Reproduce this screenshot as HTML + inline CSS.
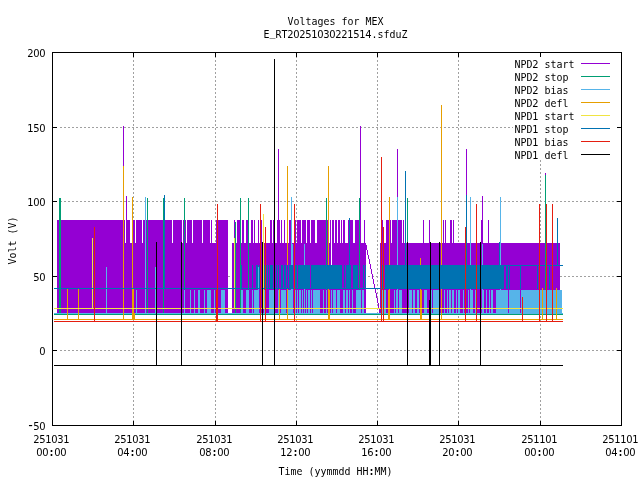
<!DOCTYPE html>
<html><head><meta charset="utf-8"><title>Voltages for MEX</title>
<style>
html,body{margin:0;padding:0;background:#fff;}
svg{display:block}
text{font-family:"DejaVu Sans Mono","Liberation Mono",monospace;font-size:11px;fill:#000;}
.d{font-family:"DejaVu Sans","Liberation Sans",sans-serif;}
</style></head><body>
<svg width="640" height="480" viewBox="0 0 640 480">
<rect width="640" height="480" fill="#fff"/>
<g shape-rendering="crispEdges">
<path d="M60 127.5H621" stroke="#a0a0a0" stroke-dasharray="2 2" stroke-dashoffset="0" fill="none"/>
<path d="M60 201.5H621" stroke="#a0a0a0" stroke-dasharray="2 2" stroke-dashoffset="0" fill="none"/>
<path d="M60 276.5H621" stroke="#a0a0a0" stroke-dasharray="2 2" stroke-dashoffset="0" fill="none"/>
<path d="M60 350.5H621" stroke="#a0a0a0" stroke-dasharray="2 2" stroke-dashoffset="0" fill="none"/>
<path d="M133.5 52V425" stroke="#a0a0a0" stroke-dasharray="2 2" stroke-dashoffset="0" fill="none"/>
<path d="M215.5 52V425" stroke="#a0a0a0" stroke-dasharray="2 2" stroke-dashoffset="0" fill="none"/>
<path d="M296.5 52V425" stroke="#a0a0a0" stroke-dasharray="2 2" stroke-dashoffset="0" fill="none"/>
<path d="M377.5 52V425" stroke="#a0a0a0" stroke-dasharray="2 2" stroke-dashoffset="0" fill="none"/>
<path d="M458.5 52V425" stroke="#a0a0a0" stroke-dasharray="2 2" stroke-dashoffset="0" fill="none"/>
<path d="M540.5 52V425" stroke="#a0a0a0" stroke-dasharray="2 2" stroke-dashoffset="0" fill="none"/>
<rect x="513" y="56" width="104" height="104" fill="#fff"/>
</g>
<g shape-rendering="crispEdges">
<rect x="57" y="220" width="68" height="23" fill="#9400d3"/>
<rect x="126" y="220" width="4" height="23" fill="#9400d3"/>
<rect x="132" y="220" width="3" height="23" fill="#9400d3"/>
<rect x="136" y="220" width="6" height="23" fill="#9400d3"/>
<rect x="143" y="220" width="29" height="23" fill="#9400d3"/>
<rect x="173" y="220" width="9" height="23" fill="#9400d3"/>
<rect x="183" y="220" width="3" height="23" fill="#9400d3"/>
<rect x="187" y="220" width="5" height="23" fill="#9400d3"/>
<rect x="193" y="220" width="9" height="23" fill="#9400d3"/>
<rect x="203" y="220" width="7" height="23" fill="#9400d3"/>
<rect x="211" y="220" width="1" height="23" fill="#9400d3"/>
<rect x="216" y="220" width="12" height="23" fill="#9400d3"/>
<rect x="57" y="243" width="171" height="70" fill="#9400d3"/>
<rect x="234" y="220" width="1" height="23" fill="#9400d3"/>
<rect x="237" y="220" width="3" height="23" fill="#9400d3"/>
<rect x="242" y="220" width="2" height="23" fill="#9400d3"/>
<rect x="246" y="220" width="2" height="23" fill="#9400d3"/>
<rect x="251" y="220" width="2" height="23" fill="#9400d3"/>
<rect x="254" y="220" width="1" height="23" fill="#9400d3"/>
<rect x="258" y="220" width="1" height="23" fill="#9400d3"/>
<rect x="261" y="220" width="1" height="23" fill="#9400d3"/>
<rect x="270" y="220" width="2" height="23" fill="#9400d3"/>
<rect x="273" y="220" width="1" height="23" fill="#9400d3"/>
<rect x="277" y="220" width="3" height="23" fill="#9400d3"/>
<rect x="281" y="220" width="1" height="23" fill="#9400d3"/>
<rect x="284" y="220" width="1" height="23" fill="#9400d3"/>
<rect x="289" y="220" width="2" height="23" fill="#9400d3"/>
<rect x="295" y="220" width="1" height="23" fill="#9400d3"/>
<rect x="297" y="220" width="4" height="23" fill="#9400d3"/>
<rect x="302" y="220" width="4" height="23" fill="#9400d3"/>
<rect x="307" y="220" width="3" height="23" fill="#9400d3"/>
<rect x="311" y="220" width="4" height="23" fill="#9400d3"/>
<rect x="317" y="220" width="12" height="23" fill="#9400d3"/>
<rect x="330" y="220" width="1" height="23" fill="#9400d3"/>
<rect x="332" y="220" width="2" height="23" fill="#9400d3"/>
<rect x="335" y="220" width="2" height="23" fill="#9400d3"/>
<rect x="338" y="220" width="2" height="23" fill="#9400d3"/>
<rect x="341" y="220" width="1" height="23" fill="#9400d3"/>
<rect x="343" y="220" width="2" height="23" fill="#9400d3"/>
<rect x="348" y="220" width="5" height="23" fill="#9400d3"/>
<rect x="355" y="220" width="6" height="23" fill="#9400d3"/>
<rect x="364" y="220" width="1" height="23" fill="#9400d3"/>
<rect x="232" y="243" width="134" height="70" fill="#9400d3"/>
<rect x="331" y="243" width="1" height="22" fill="#fff"/>
<rect x="382" y="220" width="1" height="23" fill="#9400d3"/>
<rect x="386" y="220" width="5" height="23" fill="#9400d3"/>
<rect x="392" y="220" width="10" height="23" fill="#9400d3"/>
<rect x="403" y="220" width="1" height="23" fill="#9400d3"/>
<rect x="423" y="220" width="1" height="23" fill="#9400d3"/>
<rect x="429" y="220" width="1" height="23" fill="#9400d3"/>
<rect x="443" y="220" width="1" height="23" fill="#9400d3"/>
<rect x="445" y="220" width="1" height="23" fill="#9400d3"/>
<rect x="450" y="220" width="2" height="23" fill="#9400d3"/>
<rect x="453" y="220" width="1" height="23" fill="#9400d3"/>
<rect x="481" y="220" width="1" height="23" fill="#9400d3"/>
<rect x="488" y="220" width="1" height="23" fill="#9400d3"/>
<rect x="380" y="243" width="180" height="70" fill="#9400d3"/>
<rect x="365" y="243" width="1" height="2" fill="#9400d3"/>
<rect x="366" y="245" width="1" height="5" fill="#9400d3"/>
<rect x="367" y="250" width="1" height="5" fill="#9400d3"/>
<rect x="368" y="255" width="1" height="4" fill="#9400d3"/>
<rect x="369" y="259" width="1" height="5" fill="#9400d3"/>
<rect x="370" y="264" width="1" height="5" fill="#9400d3"/>
<rect x="371" y="269" width="1" height="5" fill="#9400d3"/>
<rect x="372" y="274" width="1" height="5" fill="#9400d3"/>
<rect x="373" y="279" width="1" height="5" fill="#9400d3"/>
<rect x="374" y="284" width="1" height="4" fill="#9400d3"/>
<rect x="375" y="288" width="1" height="5" fill="#9400d3"/>
<rect x="376" y="293" width="1" height="5" fill="#9400d3"/>
<rect x="377" y="298" width="1" height="5" fill="#9400d3"/>
<rect x="378" y="303" width="1" height="5" fill="#9400d3"/>
<rect x="379" y="308" width="1" height="5" fill="#9400d3"/>
<rect x="123" y="126" width="1" height="118" fill="#9400d3"/>
<rect x="126" y="196" width="1" height="48" fill="#9400d3"/>
<rect x="278" y="149" width="1" height="95" fill="#9400d3"/>
<rect x="360" y="126" width="1" height="118" fill="#9400d3"/>
<rect x="397" y="149" width="1" height="95" fill="#9400d3"/>
<rect x="466" y="149" width="1" height="95" fill="#9400d3"/>
<rect x="482" y="196" width="1" height="48" fill="#9400d3"/>
<rect x="545" y="173" width="1" height="71" fill="#9400d3"/>
<rect x="54" y="314" width="509" height="1" fill="#009e73"/>
<rect x="59" y="198" width="1" height="117" fill="#009e73"/>
<rect x="60" y="198" width="1" height="117" fill="#009e73"/>
<rect x="147" y="198" width="1" height="117" fill="#009e73"/>
<rect x="163" y="198" width="1" height="117" fill="#009e73"/>
<rect x="184" y="198" width="1" height="117" fill="#009e73"/>
<rect x="235" y="222" width="1" height="93" fill="#009e73"/>
<rect x="240" y="198" width="1" height="117" fill="#009e73"/>
<rect x="248" y="198" width="1" height="117" fill="#009e73"/>
<rect x="326" y="198" width="1" height="117" fill="#009e73"/>
<rect x="359" y="198" width="1" height="117" fill="#009e73"/>
<rect x="407" y="198" width="1" height="117" fill="#009e73"/>
<rect x="545" y="175" width="1" height="140" fill="#009e73"/>
<rect x="54" y="313" width="509" height="1" fill="#56b4e9"/>
<rect x="136" y="290" width="1" height="24" fill="#56b4e9"/>
<rect x="184" y="290" width="1" height="24" fill="#56b4e9"/>
<rect x="190" y="290" width="1" height="24" fill="#56b4e9"/>
<rect x="194" y="290" width="1" height="24" fill="#56b4e9"/>
<rect x="198" y="290" width="2" height="24" fill="#56b4e9"/>
<rect x="204" y="290" width="1" height="24" fill="#56b4e9"/>
<rect x="207" y="290" width="4" height="24" fill="#56b4e9"/>
<rect x="214" y="290" width="1" height="24" fill="#56b4e9"/>
<rect x="221" y="290" width="4" height="24" fill="#56b4e9"/>
<rect x="241" y="290" width="2" height="24" fill="#56b4e9"/>
<rect x="246" y="290" width="3" height="24" fill="#56b4e9"/>
<rect x="252" y="290" width="1" height="24" fill="#56b4e9"/>
<rect x="254" y="290" width="5" height="24" fill="#56b4e9"/>
<rect x="264" y="290" width="1" height="24" fill="#56b4e9"/>
<rect x="269" y="290" width="5" height="24" fill="#56b4e9"/>
<rect x="278" y="290" width="1" height="24" fill="#56b4e9"/>
<rect x="281" y="290" width="5" height="24" fill="#56b4e9"/>
<rect x="288" y="290" width="5" height="24" fill="#56b4e9"/>
<rect x="295" y="290" width="1" height="24" fill="#56b4e9"/>
<rect x="297" y="290" width="1" height="24" fill="#56b4e9"/>
<rect x="299" y="290" width="2" height="24" fill="#56b4e9"/>
<rect x="302" y="290" width="1" height="24" fill="#56b4e9"/>
<rect x="304" y="290" width="1" height="24" fill="#56b4e9"/>
<rect x="306" y="290" width="1" height="24" fill="#56b4e9"/>
<rect x="308" y="290" width="2" height="24" fill="#56b4e9"/>
<rect x="311" y="290" width="1" height="24" fill="#56b4e9"/>
<rect x="313" y="290" width="7" height="24" fill="#56b4e9"/>
<rect x="323" y="290" width="1" height="24" fill="#56b4e9"/>
<rect x="326" y="290" width="1" height="24" fill="#56b4e9"/>
<rect x="331" y="290" width="1" height="24" fill="#56b4e9"/>
<rect x="333" y="290" width="3" height="24" fill="#56b4e9"/>
<rect x="337" y="290" width="3" height="24" fill="#56b4e9"/>
<rect x="343" y="290" width="2" height="24" fill="#56b4e9"/>
<rect x="346" y="290" width="2" height="24" fill="#56b4e9"/>
<rect x="349" y="290" width="1" height="24" fill="#56b4e9"/>
<rect x="352" y="290" width="1" height="24" fill="#56b4e9"/>
<rect x="356" y="290" width="5" height="24" fill="#56b4e9"/>
<rect x="362" y="290" width="2" height="24" fill="#56b4e9"/>
<rect x="382" y="290" width="1" height="24" fill="#56b4e9"/>
<rect x="384" y="290" width="2" height="24" fill="#56b4e9"/>
<rect x="394" y="290" width="1" height="24" fill="#56b4e9"/>
<rect x="396" y="290" width="2" height="24" fill="#56b4e9"/>
<rect x="399" y="290" width="3" height="24" fill="#56b4e9"/>
<rect x="409" y="290" width="3" height="24" fill="#56b4e9"/>
<rect x="413" y="290" width="2" height="24" fill="#56b4e9"/>
<rect x="417" y="290" width="2" height="24" fill="#56b4e9"/>
<rect x="424" y="290" width="3" height="24" fill="#56b4e9"/>
<rect x="431" y="290" width="1" height="24" fill="#56b4e9"/>
<rect x="433" y="290" width="6" height="24" fill="#56b4e9"/>
<rect x="444" y="290" width="1" height="24" fill="#56b4e9"/>
<rect x="447" y="290" width="1" height="24" fill="#56b4e9"/>
<rect x="449" y="290" width="2" height="24" fill="#56b4e9"/>
<rect x="452" y="290" width="2" height="24" fill="#56b4e9"/>
<rect x="456" y="290" width="1" height="24" fill="#56b4e9"/>
<rect x="458" y="290" width="2" height="24" fill="#56b4e9"/>
<rect x="463" y="290" width="1" height="24" fill="#56b4e9"/>
<rect x="468" y="290" width="1" height="24" fill="#56b4e9"/>
<rect x="470" y="290" width="3" height="24" fill="#56b4e9"/>
<rect x="475" y="290" width="1" height="24" fill="#56b4e9"/>
<rect x="482" y="290" width="2" height="24" fill="#56b4e9"/>
<rect x="486" y="290" width="1" height="24" fill="#56b4e9"/>
<rect x="489" y="290" width="1" height="24" fill="#56b4e9"/>
<rect x="491" y="290" width="2" height="24" fill="#56b4e9"/>
<rect x="496" y="290" width="12" height="24" fill="#56b4e9"/>
<rect x="509" y="290" width="11" height="24" fill="#56b4e9"/>
<rect x="521" y="290" width="41" height="24" fill="#56b4e9"/>
<rect x="106" y="267" width="1" height="47" fill="#56b4e9"/>
<rect x="145" y="197" width="1" height="117" fill="#56b4e9"/>
<rect x="155" y="267" width="1" height="47" fill="#56b4e9"/>
<rect x="258" y="267" width="1" height="47" fill="#56b4e9"/>
<rect x="291" y="197" width="1" height="117" fill="#56b4e9"/>
<rect x="292" y="244" width="1" height="70" fill="#56b4e9"/>
<rect x="304" y="244" width="1" height="70" fill="#56b4e9"/>
<rect x="397" y="197" width="1" height="117" fill="#56b4e9"/>
<rect x="470" y="197" width="1" height="117" fill="#56b4e9"/>
<rect x="482" y="244" width="1" height="70" fill="#56b4e9"/>
<rect x="500" y="197" width="1" height="117" fill="#56b4e9"/>
<rect x="54" y="319" width="509" height="1" fill="#e69f00"/>
<rect x="67" y="289" width="1" height="31" fill="#e69f00"/>
<rect x="78" y="289" width="1" height="31" fill="#e69f00"/>
<rect x="123" y="166" width="1" height="154" fill="#e69f00"/>
<rect x="132" y="197" width="1" height="123" fill="#e69f00"/>
<rect x="133" y="289" width="1" height="31" fill="#e69f00"/>
<rect x="279" y="289" width="1" height="31" fill="#e69f00"/>
<rect x="287" y="166" width="1" height="154" fill="#e69f00"/>
<rect x="328" y="166" width="1" height="154" fill="#e69f00"/>
<rect x="329" y="290" width="1" height="30" fill="#e69f00"/>
<rect x="388" y="290" width="1" height="30" fill="#e69f00"/>
<rect x="389" y="197" width="1" height="123" fill="#e69f00"/>
<rect x="420" y="258" width="1" height="62" fill="#e69f00"/>
<rect x="421" y="290" width="1" height="30" fill="#e69f00"/>
<rect x="441" y="105" width="1" height="215" fill="#e69f00"/>
<rect x="542" y="288" width="1" height="32" fill="#e69f00"/>
<rect x="556" y="288" width="1" height="32" fill="#e69f00"/>
<rect x="132" y="313" width="3" height="7" fill="#e69f00"/>
<rect x="54" y="308" width="509" height="1" fill="#f0e442"/>
<rect x="92" y="238" width="1" height="71" fill="#f0e442"/>
<rect x="234" y="238" width="1" height="71" fill="#f0e442"/>
<rect x="263" y="214" width="1" height="95" fill="#f0e442"/>
<rect x="54" y="288" width="450" height="1" fill="#0072b2"/>
<rect x="504" y="265" width="59" height="1" fill="#0072b2"/>
<rect x="241" y="265" width="1" height="24" fill="#0072b2"/>
<rect x="252" y="265" width="1" height="24" fill="#0072b2"/>
<rect x="256" y="265" width="2" height="24" fill="#0072b2"/>
<rect x="259" y="265" width="1" height="24" fill="#0072b2"/>
<rect x="264" y="265" width="1" height="24" fill="#0072b2"/>
<rect x="266" y="265" width="1" height="24" fill="#0072b2"/>
<rect x="268" y="265" width="1" height="24" fill="#0072b2"/>
<rect x="270" y="265" width="3" height="24" fill="#0072b2"/>
<rect x="276" y="265" width="1" height="24" fill="#0072b2"/>
<rect x="278" y="265" width="1" height="24" fill="#0072b2"/>
<rect x="281" y="265" width="2" height="24" fill="#0072b2"/>
<rect x="284" y="265" width="2" height="24" fill="#0072b2"/>
<rect x="287" y="265" width="1" height="24" fill="#0072b2"/>
<rect x="289" y="265" width="4" height="24" fill="#0072b2"/>
<rect x="294" y="265" width="3" height="24" fill="#0072b2"/>
<rect x="298" y="265" width="12" height="24" fill="#0072b2"/>
<rect x="311" y="265" width="31" height="24" fill="#0072b2"/>
<rect x="344" y="265" width="1" height="24" fill="#0072b2"/>
<rect x="346" y="265" width="5" height="24" fill="#0072b2"/>
<rect x="353" y="265" width="5" height="24" fill="#0072b2"/>
<rect x="363" y="265" width="1" height="24" fill="#0072b2"/>
<rect x="365" y="265" width="1" height="24" fill="#0072b2"/>
<rect x="382" y="265" width="1" height="24" fill="#0072b2"/>
<rect x="385" y="265" width="119" height="24" fill="#0072b2"/>
<rect x="506" y="265" width="2" height="24" fill="#0072b2"/>
<rect x="509" y="265" width="1" height="24" fill="#0072b2"/>
<rect x="520" y="265" width="1" height="24" fill="#0072b2"/>
<rect x="537" y="265" width="1" height="24" fill="#0072b2"/>
<rect x="549" y="265" width="1" height="24" fill="#0072b2"/>
<rect x="164" y="195" width="1" height="94" fill="#0072b2"/>
<rect x="349" y="218" width="1" height="71" fill="#0072b2"/>
<rect x="405" y="171" width="1" height="118" fill="#0072b2"/>
<rect x="466" y="195" width="1" height="94" fill="#0072b2"/>
<rect x="499" y="242" width="1" height="47" fill="#0072b2"/>
<rect x="557" y="218" width="1" height="48" fill="#0072b2"/>
<rect x="54" y="321" width="509" height="1" fill="#e51e10"/>
<rect x="94" y="227" width="1" height="95" fill="#e51e10"/>
<rect x="216" y="290" width="1" height="32" fill="#e51e10"/>
<rect x="217" y="204" width="1" height="118" fill="#e51e10"/>
<rect x="260" y="204" width="1" height="118" fill="#e51e10"/>
<rect x="265" y="227" width="1" height="95" fill="#e51e10"/>
<rect x="294" y="204" width="1" height="118" fill="#e51e10"/>
<rect x="381" y="157" width="1" height="165" fill="#e51e10"/>
<rect x="383" y="227" width="1" height="95" fill="#e51e10"/>
<rect x="465" y="227" width="1" height="95" fill="#e51e10"/>
<rect x="476" y="204" width="1" height="118" fill="#e51e10"/>
<rect x="522" y="297" width="1" height="25" fill="#e51e10"/>
<rect x="539" y="204" width="1" height="118" fill="#e51e10"/>
<rect x="546" y="204" width="1" height="118" fill="#e51e10"/>
<rect x="552" y="204" width="1" height="118" fill="#e51e10"/>
<rect x="54" y="365" width="509" height="1" fill="#000"/>
<rect x="156" y="242" width="1" height="124" fill="#000"/>
<rect x="181" y="242" width="1" height="124" fill="#000"/>
<rect x="262" y="242" width="1" height="124" fill="#000"/>
<rect x="274" y="59" width="1" height="307" fill="#000"/>
<rect x="407" y="242" width="1" height="124" fill="#000"/>
<rect x="429" y="300" width="1" height="66" fill="#000"/>
<rect x="430" y="242" width="1" height="124" fill="#000"/>
<rect x="439" y="242" width="1" height="124" fill="#000"/>
<rect x="480" y="242" width="1" height="124" fill="#000"/>
</g>
<g shape-rendering="crispEdges">
<rect x="581" y="63" width="29" height="1" fill="#9400d3"/>
<rect x="581" y="76" width="29" height="1" fill="#009e73"/>
<rect x="581" y="89" width="29" height="1" fill="#56b4e9"/>
<rect x="581" y="102" width="29" height="1" fill="#e69f00"/>
<rect x="581" y="115" width="29" height="1" fill="#f0e442"/>
<rect x="581" y="128" width="29" height="1" fill="#0072b2"/>
<rect x="581" y="141" width="29" height="1" fill="#e51e10"/>
<rect x="581" y="154" width="29" height="1" fill="#000"/>
<path d="M52.5 52.5H621.5V425.5H52.5z" stroke="#000" fill="none"/>
<rect x="133" y="421" width="1" height="4" fill="#000"/><rect x="133" y="53" width="1" height="4" fill="#000"/>
<rect x="215" y="421" width="1" height="4" fill="#000"/><rect x="215" y="53" width="1" height="4" fill="#000"/>
<rect x="296" y="421" width="1" height="4" fill="#000"/><rect x="296" y="53" width="1" height="4" fill="#000"/>
<rect x="377" y="421" width="1" height="4" fill="#000"/><rect x="377" y="53" width="1" height="4" fill="#000"/>
<rect x="458" y="421" width="1" height="4" fill="#000"/><rect x="458" y="53" width="1" height="4" fill="#000"/>
<rect x="540" y="421" width="1" height="4" fill="#000"/><rect x="540" y="53" width="1" height="4" fill="#000"/>
<rect x="53" y="127" width="4" height="1" fill="#000"/><rect x="617" y="127" width="4" height="1" fill="#000"/>
<rect x="53" y="201" width="4" height="1" fill="#000"/><rect x="617" y="201" width="4" height="1" fill="#000"/>
<rect x="53" y="276" width="4" height="1" fill="#000"/><rect x="617" y="276" width="4" height="1" fill="#000"/>
<rect x="53" y="350" width="4" height="1" fill="#000"/><rect x="617" y="350" width="4" height="1" fill="#000"/>
</g>
<g>
<text transform="translate(287,25) scale(0.906,1)" x="3.86 10.49 17.11 23.73 30.35 36.98 43.60 50.22 56.84 63.47 70.09 76.71 83.33 89.96 96.58 103.20" y="0" text-anchor="middle">Voltages for MEX</text>
<text transform="translate(263,38) scale(0.906,1)" x="3.86 10.49 17.11 23.73 30.35 36.98 43.60 50.22 56.84 63.47 70.09 76.71 83.33 89.96 96.58 103.20 109.82 116.45 123.07 129.69 136.31 142.94 149.56 156.18" y="0" text-anchor="middle">E<tspan dy="-2">_</tspan><tspan dy="2">RT</tspan><tspan class="d">20251030221514</tspan>.sfduZ</text>
<text transform="translate(27,57) scale(0.906,1)" x="3.86 10.49 17.11" y="0" text-anchor="middle"><tspan class="d">200</tspan></text>
<text transform="translate(27,132) scale(0.906,1)" x="3.86 10.49 17.11" y="0" text-anchor="middle"><tspan class="d">150</tspan></text>
<text transform="translate(27,206) scale(0.906,1)" x="3.86 10.49 17.11" y="0" text-anchor="middle"><tspan class="d">100</tspan></text>
<text transform="translate(33,281) scale(0.906,1)" x="3.86 10.49" y="0" text-anchor="middle"><tspan class="d">50</tspan></text>
<text transform="translate(39,355) scale(0.906,1)" x="3.86" y="0" text-anchor="middle"><tspan class="d">0</tspan></text>
<text transform="translate(27,430) scale(0.906,1)" x="3.86 10.49 17.11" y="0" text-anchor="middle"><tspan font-size="14">-</tspan><tspan class="d">50</tspan></text>
<text transform="translate(33,443) scale(0.906,1)" x="3.86 10.49 17.11 23.73 30.35 36.98" y="0" text-anchor="middle"><tspan class="d">251031</tspan></text>
<text transform="translate(36,456) scale(0.906,1)" x="3.86 10.49 17.11 23.73 30.35" y="0" text-anchor="middle"><tspan class="d">00</tspan><tspan font-weight="bold">:</tspan><tspan class="d">00</tspan></text>
<text transform="translate(114,443) scale(0.906,1)" x="3.86 10.49 17.11 23.73 30.35 36.98" y="0" text-anchor="middle"><tspan class="d">251031</tspan></text>
<text transform="translate(117,456) scale(0.906,1)" x="3.86 10.49 17.11 23.73 30.35" y="0" text-anchor="middle"><tspan class="d">04</tspan><tspan font-weight="bold">:</tspan><tspan class="d">00</tspan></text>
<text transform="translate(196,443) scale(0.906,1)" x="3.86 10.49 17.11 23.73 30.35 36.98" y="0" text-anchor="middle"><tspan class="d">251031</tspan></text>
<text transform="translate(199,456) scale(0.906,1)" x="3.86 10.49 17.11 23.73 30.35" y="0" text-anchor="middle"><tspan class="d">08</tspan><tspan font-weight="bold">:</tspan><tspan class="d">00</tspan></text>
<text transform="translate(277,443) scale(0.906,1)" x="3.86 10.49 17.11 23.73 30.35 36.98" y="0" text-anchor="middle"><tspan class="d">251031</tspan></text>
<text transform="translate(280,456) scale(0.906,1)" x="3.86 10.49 17.11 23.73 30.35" y="0" text-anchor="middle"><tspan class="d">12</tspan><tspan font-weight="bold">:</tspan><tspan class="d">00</tspan></text>
<text transform="translate(358,443) scale(0.906,1)" x="3.86 10.49 17.11 23.73 30.35 36.98" y="0" text-anchor="middle"><tspan class="d">251031</tspan></text>
<text transform="translate(361,456) scale(0.906,1)" x="3.86 10.49 17.11 23.73 30.35" y="0" text-anchor="middle"><tspan class="d">16</tspan><tspan font-weight="bold">:</tspan><tspan class="d">00</tspan></text>
<text transform="translate(439,443) scale(0.906,1)" x="3.86 10.49 17.11 23.73 30.35 36.98" y="0" text-anchor="middle"><tspan class="d">251031</tspan></text>
<text transform="translate(442,456) scale(0.906,1)" x="3.86 10.49 17.11 23.73 30.35" y="0" text-anchor="middle"><tspan class="d">20</tspan><tspan font-weight="bold">:</tspan><tspan class="d">00</tspan></text>
<text transform="translate(521,443) scale(0.906,1)" x="3.86 10.49 17.11 23.73 30.35 36.98" y="0" text-anchor="middle"><tspan class="d">251101</tspan></text>
<text transform="translate(524,456) scale(0.906,1)" x="3.86 10.49 17.11 23.73 30.35" y="0" text-anchor="middle"><tspan class="d">00</tspan><tspan font-weight="bold">:</tspan><tspan class="d">00</tspan></text>
<text transform="translate(602,443) scale(0.906,1)" x="3.86 10.49 17.11 23.73 30.35 36.98" y="0" text-anchor="middle"><tspan class="d">251101</tspan></text>
<text transform="translate(605,456) scale(0.906,1)" x="3.86 10.49 17.11 23.73 30.35" y="0" text-anchor="middle"><tspan class="d">04</tspan><tspan font-weight="bold">:</tspan><tspan class="d">00</tspan></text>
<text transform="translate(278,475) scale(0.906,1)" x="3.86 10.49 17.11 23.73 30.35 36.98 43.60 50.22 56.84 63.47 70.09 76.71 83.33 89.96 96.58 103.20 109.82 116.45 123.07" y="0" text-anchor="middle">Time (yymmdd HH<tspan font-weight="bold">:</tspan>MM)</text>
<text transform="translate(16,265) rotate(-90) scale(0.906,1)" x="3.86 10.49 17.11 23.73 30.35 36.98 43.60 50.22" y="0" text-anchor="middle">Volt (V)</text>
<text transform="translate(514,68) scale(0.906,1)" x="3.86 10.49 17.11 23.73 30.35 36.98 43.60 50.22 56.84 63.47" y="0" text-anchor="middle">NPD<tspan class="d">2</tspan> start</text>
<text transform="translate(514,81) scale(0.906,1)" x="3.86 10.49 17.11 23.73 30.35 36.98 43.60 50.22 56.84" y="0" text-anchor="middle">NPD<tspan class="d">2</tspan> stop</text>
<text transform="translate(514,94) scale(0.906,1)" x="3.86 10.49 17.11 23.73 30.35 36.98 43.60 50.22 56.84" y="0" text-anchor="middle">NPD<tspan class="d">2</tspan> bias</text>
<text transform="translate(514,107) scale(0.906,1)" x="3.86 10.49 17.11 23.73 30.35 36.98 43.60 50.22 56.84" y="0" text-anchor="middle">NPD<tspan class="d">2</tspan> defl</text>
<text transform="translate(514,120) scale(0.906,1)" x="3.86 10.49 17.11 23.73 30.35 36.98 43.60 50.22 56.84 63.47" y="0" text-anchor="middle">NPD<tspan class="d">1</tspan> start</text>
<text transform="translate(514,133) scale(0.906,1)" x="3.86 10.49 17.11 23.73 30.35 36.98 43.60 50.22 56.84" y="0" text-anchor="middle">NPD<tspan class="d">1</tspan> stop</text>
<text transform="translate(514,146) scale(0.906,1)" x="3.86 10.49 17.11 23.73 30.35 36.98 43.60 50.22 56.84" y="0" text-anchor="middle">NPD<tspan class="d">1</tspan> bias</text>
<text transform="translate(514,159) scale(0.906,1)" x="3.86 10.49 17.11 23.73 30.35 36.98 43.60 50.22 56.84" y="0" text-anchor="middle">NPD<tspan class="d">1</tspan> defl</text>
</g>
</svg>
</body></html>
